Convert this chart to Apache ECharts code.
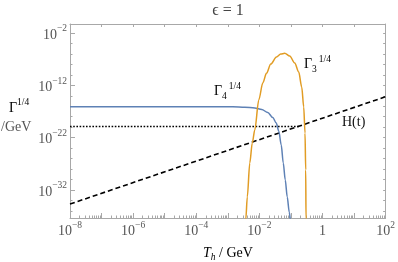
<!DOCTYPE html>
<html>
<head>
<meta charset="utf-8">
<script src="https://cdn.jsdelivr.net/npm/echarts@6/dist/echarts.min.js"></script>
<style>html,body{margin:0;padding:0;background:#fff}#c{width:398px;height:262px}</style>
</head>
<body>
<div id="c"></div>
<script>
// values are log10 exponents
const xLabelExps = [-8, -6, -4, -2, 0, 2];
const yLabelExps = [-32, -22, -12, -2];
const yTickExps = [-36,-34,-32,-30,-28,-26,-24,-22,-20,-18,-16,-14,-12,-10,-8,-6,-4,-2];
const xMajorExps = [-8,-7,-6,-5,-4,-3,-2,-1,0,1,2];

// Gamma_4^(1/4) (blue): log10 T, log10 Gamma
const logT4 = [-8, -4, -2.84, -2.462, -2.146, -1.924, -1.734, -1.576, -1.465, -1.386, -1.307, -1.243, -1.180, -1.117, -1.054, -1.006, -0.975];
const logG4 = [-16.09, -16.09, -16.09, -16.19, -16.34, -16.63, -17.20, -18.16, -19.21, -20.74, -23.41, -26.86, -30.11, -33.36, -36.23, -38.14, -39.67];

// Gamma_3^(1/4) (orange)
const logT3 = [-2.446, -2.430, -2.383, -2.304, -2.225, -2.146, -2.019, -1.892, -1.775, -1.639, -1.459, -1.323, -1.196,
               -1.038, -0.880, -0.753, -0.658, -0.595, -0.554, -0.532, -0.522, -0.516];
const logG3 = [-39.67, -37.56, -33.36, -26.86, -23.03, -20.55, -14.81, -11.56, -9.71, -7.93, -6.59, -6.02, -5.88,
               -6.40, -7.74, -9.46, -12.33, -16.15, -21.12, -28.2, -37.56, -39.7];

// H(t) (dashed)
const logTH = [-8, 2];
const logH = [-34.7, -14.18];

// horizontal dotted level
const logTD = [-8, -0.72];
const logD = [-19.88, -19.88];

const serif = '"Liberation Serif","DejaVu Serif",serif';
const gray = '#555';
const frame = '#a8a8a8';

function pow10(v) {
  if (v === 0) return '{b|1}';
  return '{b|10}{s|' + (v < 0 ? '\u2212' : '') + Math.abs(v) + '}';
}
const rich = {
  b: {fontSize: 14, fontFamily: serif, color: gray, lineHeight: 18, verticalAlign: 'bottom'},
  s: {fontSize: 9.5, fontFamily: serif, color: gray, verticalAlign: 'top', lineHeight: 18}
};
const xMinor = [];
for (let n = -8; n < 2; n++) for (let k = 2; k <= 9; k++) xMinor.push(n + Math.log10(k));

function pair(a, b) { return a.map((v, i) => [v, b[i]]); }

const yMin = -37.37, yMax = -0.28;

const chart = echarts.init(document.getElementById('c'));
chart.setOption({
  animation: false,
  grid: {left: 70, right: 11, top: 24, bottom: 44},
  xAxis: [
    {type: 'value', min: -8, max: 2, position: 'bottom',
     axisLine: {onZero: false, lineStyle: {color: frame, width: 1}},
     axisTick: {inside: true, length: 5, customValues: xMajorExps, lineStyle: {color: frame}},
     axisLabel: {customValues: xLabelExps, formatter: pow10, rich: rich, margin: 2},
     splitLine: {show: false}},
    {type: 'value', min: -8, max: 2, position: 'bottom',
     axisLine: {show: false, onZero: false},
     axisTick: {inside: true, length: 2.5, customValues: xMinor, lineStyle: {color: frame}},
     axisLabel: {show: false}, splitLine: {show: false}},
    {type: 'value', min: -8, max: 2, position: 'top',
     axisLine: {onZero: false, lineStyle: {color: frame, width: 1}},
     axisTick: {inside: true, length: 3, customValues: xMajorExps, lineStyle: {color: frame}},
     axisLabel: {show: false}, splitLine: {show: false}}
  ],
  yAxis: [
    {type: 'value', min: yMin, max: yMax, position: 'left',
     axisLine: {show: true, onZero: false, lineStyle: {color: frame, width: 1}},
     axisTick: {show: true, inside: true, length: 2.5, customValues: yTickExps, lineStyle: {color: frame}},
     axisLabel: {show: false}, splitLine: {show: false}},
    {type: 'value', min: yMin, max: yMax, position: 'left',
     axisLine: {show: false, onZero: false},
     axisTick: {show: true, inside: true, length: 5, customValues: yLabelExps, lineStyle: {color: frame}},
     axisLabel: {customValues: yLabelExps, formatter: pow10, rich: rich, margin: 3},
     splitLine: {show: false}},
    {type: 'value', min: yMin, max: yMax, position: 'right',
     axisLine: {show: true, onZero: false, lineStyle: {color: frame, width: 1}},
     axisTick: {show: true, inside: true, length: 2.5, customValues: yTickExps, lineStyle: {color: frame}},
     axisLabel: {show: false}, splitLine: {show: false}}
  ],
  series: [
    {type: 'line', data: pair(logTD, logD), showSymbol: false, clip: true,
     lineStyle: {color: '#000', width: 1.6, type: [1.6, 1.6]}},
    {type: 'line', data: pair(logTH, logH), showSymbol: false, clip: true,
     lineStyle: {color: '#000', width: 1.6, type: [5, 3]}},
    {type: 'line', data: pair(logT4, logG4), showSymbol: false, clip: true, smooth: 0.3, smoothMonotone: 'x',
     lineStyle: {color: '#5E81B5', width: 1.5}},
    {type: 'line', data: pair(logT3, logG3), showSymbol: false, clip: true, smooth: 0.3, smoothMonotone: 'x',
     lineStyle: {color: '#E19C24', width: 1.5}}
  ],
  graphic: [
    {type: 'text', style: {text: '\u03F5 = 1', x: 228, y: 11, align: 'center', verticalAlign: 'middle',
      fontSize: 16, fontFamily: serif, fill: '#444'}},
    {type: 'text', style: {x: 9, y: 106, verticalAlign: 'middle', text: '{g|\u0393}{u|1/4}',
      rich: {g: {fontSize: 14, fontFamily: serif, color: gray, lineHeight: 18, verticalAlign: 'bottom'},
             u: {fontSize: 9.5, fontFamily: serif, color: gray, lineHeight: 18, verticalAlign: 'top'}}}},
    {type: 'text', style: {x: 1, y: 127, verticalAlign: 'middle', text: '/GeV', fontSize: 14, fontFamily: serif, fill: gray}},
    {type: 'text', style: {x: 203, y: 253, verticalAlign: 'middle', text: '{i|T}{h|h}{n| / GeV}',
      rich: {i: {fontSize: 14, fontFamily: serif, fontStyle: 'italic', color: gray, lineHeight: 18, verticalAlign: 'middle'},
             h: {fontSize: 9.5, fontFamily: serif, fontStyle: 'italic', color: gray, lineHeight: 18, verticalAlign: 'bottom'},
             n: {fontSize: 14, fontFamily: serif, color: gray, lineHeight: 18, verticalAlign: 'middle'}}}},
    {type: 'text', style: {x: 214, y: 91, verticalAlign: 'middle', text: '{g|\u0393}{d|4}{u|1/4}',
      rich: {g: {fontSize: 14, fontFamily: serif, color: '#5E81B5', lineHeight: 20, verticalAlign: 'middle'},
             d: {fontSize: 9.5, fontFamily: serif, color: '#5E81B5', lineHeight: 20, verticalAlign: 'bottom'},
             u: {fontSize: 9.5, fontFamily: serif, color: '#5E81B5', lineHeight: 20, verticalAlign: 'top', padding: [0,0,0,2]}}}},
    {type: 'text', style: {x: 304, y: 64, verticalAlign: 'middle', text: '{g|\u0393}{d|3}{u|1/4}',
      rich: {g: {fontSize: 14, fontFamily: serif, color: '#C88A1E', lineHeight: 20, verticalAlign: 'middle'},
             d: {fontSize: 9.5, fontFamily: serif, color: '#C88A1E', lineHeight: 20, verticalAlign: 'bottom'},
             u: {fontSize: 9.5, fontFamily: serif, color: '#C88A1E', lineHeight: 20, verticalAlign: 'top', padding: [0,0,0,2]}}}},
    {type: 'text', style: {x: 342, y: 122, verticalAlign: 'middle', text: 'H(t)', fontSize: 14, fontFamily: serif, fill: '#111'}}
  ]
});
</script>
</body>
</html>
